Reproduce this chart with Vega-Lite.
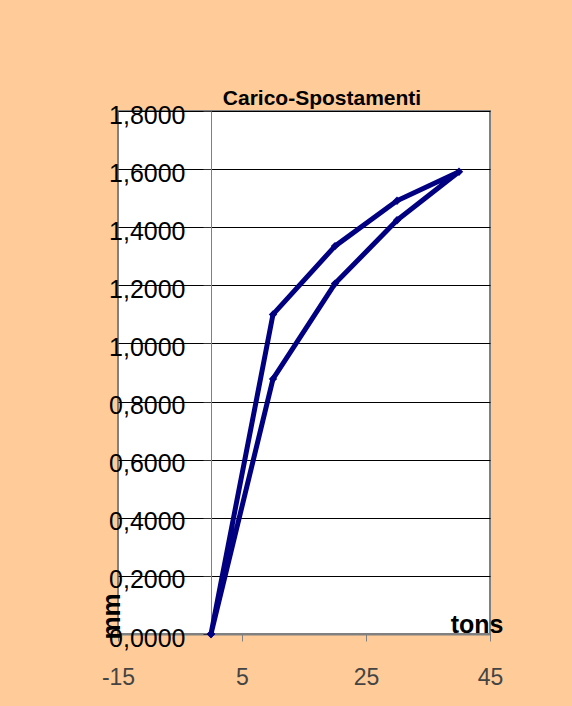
{
  "$schema": "https://vega.github.io/schema/vega-lite/v6.json",
  "width": 372,
  "height": 523,
  "autosize": {"type": "none"},
  "padding": {"left": 118, "top": 111, "right": 82, "bottom": 72},
  "background": "#FFCC99",
  "title": {
    "text": "Carico-Spostamenti",
    "font": "Liberation Sans",
    "fontSize": 21,
    "fontWeight": "bold",
    "color": "#000000",
    "anchor": "middle",
    "frame": "group",
    "baseline": "alphabetic",
    "offset": -23,
    "dx": 18
  },
  "config": {
    "view": {"fill": "#FFFFFF", "stroke": "#808080", "strokeWidth": 2},
    "font": "Liberation Sans"
  },
  "data": {
    "values": [
      {"step": 1, "tons": 0, "mm": 0},
      {"step": 2, "tons": 10, "mm": 0.878},
      {"step": 3, "tons": 20, "mm": 1.206},
      {"step": 4, "tons": 30, "mm": 1.424},
      {"step": 5, "tons": 40, "mm": 1.591},
      {"step": 6, "tons": 30, "mm": 1.491},
      {"step": 7, "tons": 20, "mm": 1.335},
      {"step": 8, "tons": 10, "mm": 1.1},
      {"step": 9, "tons": 0, "mm": 0}
    ]
  },
  "encoding": {
    "x": {
      "field": "tons",
      "type": "quantitative",
      "scale": {"domain": [-15, 45], "nice": false, "zero": false},
      "axis": {
        "title": "tons",
        "titleFont": "Liberation Sans",
        "titleFontSize": 25,
        "titleFontWeight": "bold",
        "titleColor": "#000000",
        "titleAlign": "right",
        "titleBaseline": "alphabetic",
        "titleX": 385,
        "titleY": -2,
        "values": [-15, 5, 25, 45],
        "labelExpr": "datum.value < 0 ? '-' + format(-datum.value, 'd') : format(datum.value, 'd')",
        "grid": false,
        "domainColor": "#808080",
        "domainWidth": 2,
        "tickColor": "#808080",
        "tickSize": 7,
        "tickWidth": 1,
        "labelFont": "Liberation Sans",
        "labelFontSize": 23,
        "labelColor": "#444444",
        "labelBaseline": "alphabetic",
        "labelPadding": 43,
        "labelFlush": false,
        "labelOverlap": false,
        "labelBound": false
      }
    },
    "y": {
      "field": "mm",
      "type": "quantitative",
      "scale": {"domain": [0, 1.8], "nice": false},
      "axis": {
        "title": "mm",
        "titleFont": "Liberation Sans",
        "titleFontSize": 26,
        "titleFontWeight": "bold",
        "titleColor": "#000000",
        "titleAngle": -90,
        "titleAlign": "left",
        "titleBaseline": "alphabetic",
        "titleX": -92,
        "titleY": 528,
        "offset": -93,
        "values": [0, 0.2, 0.4, 0.6, 0.8, 1.0, 1.2, 1.4, 1.6, 1.8],
        "labelExpr": "replace(format(datum.value, '.4f'), '.', ',')",
        "grid": true,
        "gridColor": "#000000",
        "gridWidth": 1,
        "gridOpacity": 1,
        "domainColor": "#808080",
        "domainWidth": 1,
        "tickColor": "#333333",
        "tickSize": 8,
        "labelFont": "Liberation Sans",
        "labelFontSize": 25,
        "labelColor": "#000000",
        "labelBaseline": "alphabetic",
        "labelOffset": 12,
        "labelPadding": 18,
        "labelFlush": false,
        "labelOverlap": false,
        "labelBound": false
      }
    },
    "order": {"field": "step", "type": "quantitative"}
  },
  "layer": [
    {"mark": {"type": "line", "color": "#000080", "strokeWidth": 5, "strokeJoin": "round"}},
    {"mark": {"type": "point", "shape": "diamond", "filled": true, "color": "#000080", "size": 70, "opacity": 1}}
  ]
}
